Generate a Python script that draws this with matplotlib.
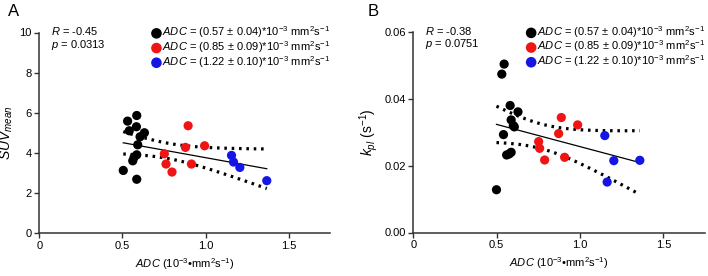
import numpy as np
import matplotlib
matplotlib.use("Agg")
import matplotlib.pyplot as plt

plt.rcParams["font.family"] = ["Liberation Sans", "DejaVu Sans"]
plt.rcParams["mathtext.fontset"] = "custom"
plt.rcParams["mathtext.rm"] = "Liberation Sans"
plt.rcParams["mathtext.it"] = "Liberation Sans:italic"

# group 1 (black), group 2 (red), group 3 (blue)
adc_a_blk = [0.505, 0.531, 0.541, 0.586, 0.584, 0.632, 0.606, 0.592, 0.586, 0.570, 0.562, 0.586]
suv_blk = [3.12, 5.58, 5.10, 5.86, 5.30, 5.00, 4.80, 4.40, 3.90, 3.78, 3.60, 2.68]
adc_a_red = [0.895, 0.879, 0.994, 0.752, 0.762, 0.798, 0.915]
suv_red = [5.35, 4.27, 4.35, 3.95, 3.44, 3.04, 3.44]
adc_a_blu = [1.156, 1.168, 1.206, 1.368]
suv_blu = [3.87, 3.54, 3.27, 2.61]

adc_b_blk = [0.545, 0.531, 0.581, 0.628, 0.587, 0.606, 0.541, 0.560, 0.575, 0.587, 0.499, 0.600]
kpl_blk = [0.0504, 0.0474, 0.0380, 0.0361, 0.0337, 0.0316, 0.0293, 0.0232, 0.0235, 0.0240, 0.0128, 0.0320]
adc_b_red = [0.888, 0.986, 0.872, 0.752, 0.758, 0.788, 0.908]
kpl_red = [0.0344, 0.0322, 0.0296, 0.0272, 0.0252, 0.0217, 0.0225]
adc_b_blu = [1.149, 1.203, 1.359, 1.163]
kpl_blu = [0.0290, 0.0215, 0.0216, 0.0151]

legend_labels = [
    r"$\it{ADC}$ = (0.57 ± 0.04)*10$^{-3}$ mm$^{2}$s$^{-1}$",
    r"$\it{ADC}$ = (0.85 ± 0.09)*10$^{-3}$ mm$^{2}$s$^{-1}$",
    r"$\it{ADC}$ = (1.22 ± 0.10)*10$^{-3}$ mm$^{2}$s$^{-1}$",
]
colors = ["black", "#f01515", "#1515e6"]
stats_a = ("-0.45", "0.0313")
stats_b = ("-0.38", "0.0751")


def fit_band(x, y, t=2.08):
    x = np.asarray(x)
    y = np.asarray(y)
    b, a = np.polyfit(x, y, 1)
    n = len(x)
    res = y - (a + b * x)
    s = np.sqrt(np.sum(res ** 2) / (n - 2))
    xs = np.linspace(x.min(), x.max(), 50)
    se = s * np.sqrt(1.0 / n + (xs - x.mean()) ** 2 / np.sum((x - x.mean()) ** 2))
    yf = a + b * xs
    return xs, yf, yf - t * se, yf + t * se


def panel(ax, groups, ylim, yticks, yfmt, ylabel, stats):
    xall, yall = [], []
    for (gx, gy), c, lab in zip(groups, colors, legend_labels):
        ax.scatter(gx, gy, s=44, color=c, edgecolors="none", zorder=3, label=lab)
        xall += gx
        yall += gy
    xs, yf, lo, hi = fit_band(xall, yall)
    ax.plot(xs, yf, color="black", lw=0.9, zorder=2)
    for yy in (lo, hi):
        ax.plot(xs, yy, color="black", lw=2.3, ls=(0, (0.8, 1.5)), zorder=2)

    ax.set_xlim(0, 1.75)
    ax.set_ylim(*ylim)
    ax.set_xticks([0, 0.5, 1.0, 1.5])
    ax.set_xticklabels(["0", "0.5", "1.0", "1.5"])
    ax.set_yticks(yticks)
    ax.set_yticklabels([yfmt.format(v) for v in yticks])
    for sp in ("top", "right"):
        ax.spines[sp].set_visible(False)
    for sp in ("left", "bottom"):
        ax.spines[sp].set_color("#333333")
        ax.spines[sp].set_linewidth(1.1)
    ax.tick_params(direction="out", length=3.5, width=1.0, color="#333333",
                   labelsize=8, pad=2)
    ax.set_xlabel(r"$\it{ADC}$ (10$^{-3}$•mm$^{2}$s$^{-1}$)", fontsize=8, labelpad=4)
    ax.set_ylabel(ylabel, fontsize=10, labelpad=3)
    ax.text(0.04, 1.035, r"$\it{R}$ = " + stats[0] + "\n" + r"$\it{p}$ = " + stats[1],
            transform=ax.transAxes, fontsize=8, va="top", ha="left", linespacing=1.05)
    ax.legend(loc="upper right", bbox_to_anchor=(1.0, 1.04), frameon=False,
              fontsize=8, handletextpad=0.0, borderaxespad=0, labelspacing=-0.1,
              markerscale=1.15, handlelength=1.0, borderpad=0)


fig = plt.figure(figsize=(7.08, 2.76), dpi=100)
ax1 = fig.add_axes([39.3 / 708, 43 / 276, 291 / 708, 200.5 / 276])
ax2 = fig.add_axes([413.3 / 708, 43.5 / 276, 291.7 / 708, 200.5 / 276])

panel(ax1, [(adc_a_blk, suv_blk), (adc_a_red, suv_red), (adc_a_blu, suv_blu)],
      (0, 10), [0, 2, 4, 6, 8, 10], "{:g}", r"$\it{SUV}_{\it{mean}}$", stats_a)
panel(ax2, [(adc_b_blk, kpl_blk), (adc_b_red, kpl_red), (adc_b_blu, kpl_blu)],
      (0, 0.06), [0, 0.02, 0.04, 0.06], "{:.2f}", r"$\it{k}_{\it{pl}}$ (s$^{-1}$)", stats_b)

fig.text(8 / 708, 1 - 12 / 276, "A", fontsize=12, va="center", ha="left")
fig.text(368 / 708, 1 - 12 / 276, "B", fontsize=12, va="center", ha="left")

fig.savefig("out.png", dpi=100)
